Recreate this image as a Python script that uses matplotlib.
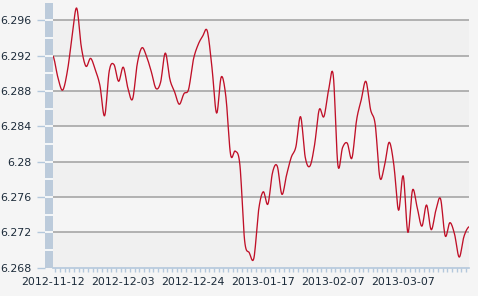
import numpy as np
import matplotlib
matplotlib.use('Agg')
import matplotlib.pyplot as plt

# daily rate, 90 trading days from 2012-11-12
rate = [6.2919, 6.2895, 6.2881, 6.2902, 6.2940, 6.2974, 6.2930, 6.2908, 6.2917, 6.2904,
        6.2886, 6.2852, 6.2903, 6.2910, 6.2891, 6.2907, 6.2883, 6.2871, 6.2911, 6.2929,
        6.2919, 6.2902, 6.2883, 6.2890, 6.2923, 6.2893, 6.2879, 6.2865, 6.2877, 6.2882,
        6.2915, 6.2932, 6.2942, 6.2948, 6.2907, 6.2855, 6.2896, 6.2873, 6.2808, 6.2812,
        6.2796, 6.2711, 6.2697, 6.2691, 6.2745, 6.2766, 6.2752, 6.2788, 6.2795, 6.2763,
        6.2785, 6.2805, 6.2817, 6.2851, 6.2805, 6.2795, 6.2819, 6.2859, 6.2851, 6.2881,
        6.2898, 6.2796, 6.2816, 6.2821, 6.2804, 6.2847, 6.2870, 6.2891, 6.2859, 6.2842,
        6.2782, 6.2796, 6.2822, 6.2796, 6.2745, 6.2784, 6.2720, 6.2768, 6.2748, 6.2727,
        6.2751, 6.2723, 6.2745, 6.2758, 6.2716, 6.2731, 6.2718, 6.2692, 6.2715, 6.2726]
date_labels = ['2012-11-12', '2012-12-03', '2012-12-24', '2013-01-17', '2013-02-07', '2013-03-07']
label_idx = [0, 15, 30, 45, 60, 75]
yticks = [6.268, 6.272, 6.276, 6.28, 6.284, 6.288, 6.292, 6.296]


def catmull(y, steps=10):
    y = np.asarray(y, dtype=float)
    p = np.concatenate([[y[0]], y, [y[-1]]])
    xs, ys = [], []
    t = np.linspace(0, 1, steps, endpoint=False)
    for i in range(len(y) - 1):
        p0, p1, p2, p3 = p[i], p[i + 1], p[i + 2], p[i + 3]
        seg = 0.5 * ((2 * p1) + (-p0 + p2) * t + (2 * p0 - 5 * p1 + 4 * p2 - p3) * t ** 2
                     + (-p0 + 3 * p1 - 3 * p2 + p3) * t ** 3)
        xs.append(i + t)
        ys.append(seg)
    xs.append([len(y) - 1])
    ys.append([y[-1]])
    return np.concatenate(xs), np.concatenate(ys)


W, H = 478, 296
top, bot = 2.7, 267.7
fig = plt.figure(figsize=(W / 100, H / 100), dpi=100, facecolor='#f5f5f5')
ax = fig.add_axes([53.3 / W, (H - bot) / H, (469 - 53.3) / W, (bot - top) / H])
ax.set_facecolor('#f5f5f5')
ax.set_ylim(6.268, 6.298)
ax.set_xlim(0, len(rate) - 0.9)

# alternating bands
for k, lo in enumerate(np.arange(6.268, 6.296, 0.004)):
    if k % 2 == 0:
        ax.axhspan(lo, lo + 0.004, color='#f0f0f0', lw=0, zorder=0)
for v in yticks[1:]:
    ax.axhline(v, color='#a6a6a6', lw=1.2, zorder=1)

xs, ys = catmull(rate)
ax.plot(xs, ys, color='#c01028', lw=0.95, zorder=3)

for s in ['top', 'right', 'left']:
    ax.spines[s].set_visible(False)
ax.spines['bottom'].set_color('#b4c8dc')
ax.spines['bottom'].set_linewidth(1.2)
ax.set_yticks([])
ax.set_xticks(label_idx)
ax.set_xticklabels(date_labels)
ax.set_xticks(np.arange(len(rate) - 1) + 0.45, minor=True)
ax.tick_params(axis='x', which='major', length=0, pad=7, labelsize=7.9, labelcolor='#1c2b3a')
ax.tick_params(axis='x', which='minor', length=3, width=1, color='#b4c8dc', direction='out')

# blue bar on the left with the y labels
bx = fig.add_axes([45 / W, (H - bot) / H, 8 / W, (bot - top) / H])
bx.set_facecolor('#bccbdb')
bx.set_ylim(6.268, 6.298)
bx.set_xlim(0, 1)
for v in np.arange(6.270, 6.2975, 0.002):
    bx.axhline(v, color='white', lw=1.2)
for s in bx.spines.values():
    s.set_visible(False)
bx.set_xticks([])
bx.set_yticks(yticks)
bx.set_yticklabels(['%g' % v for v in yticks])
bx.tick_params(axis='y', length=6, width=1, color='#b4c8dc', pad=3.5, labelsize=7.9, labelcolor='#1c2b3a')

fig.savefig('out.png', dpi=100, facecolor=fig.get_facecolor())
